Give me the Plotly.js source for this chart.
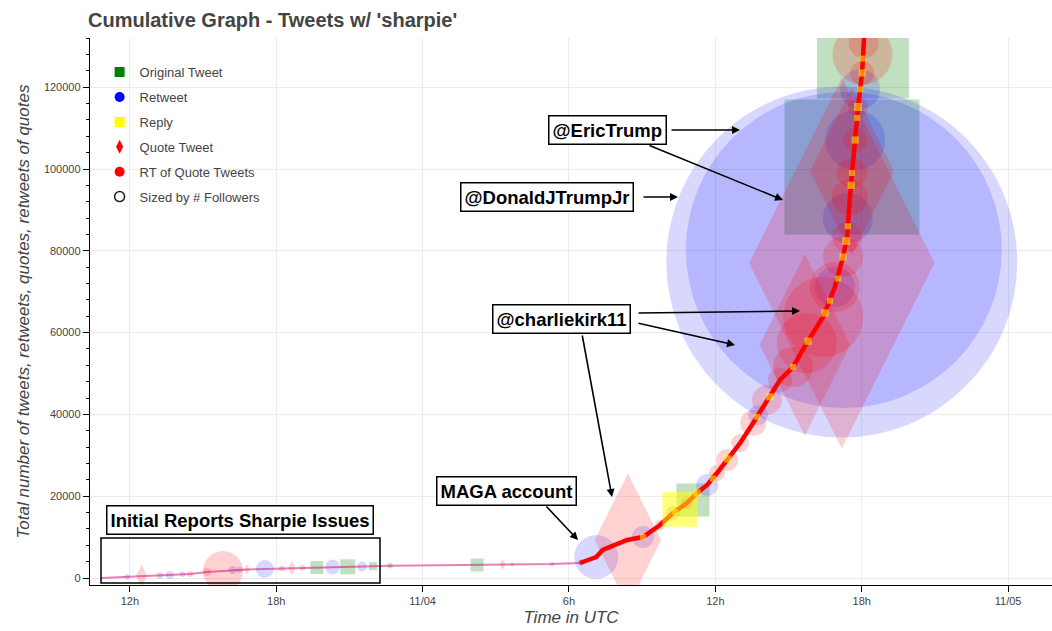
<!DOCTYPE html>
<html><head><meta charset="utf-8">
<script src="https://cdn.plot.ly/plotly-3.0.1.min.js"></script>
<style>html,body{margin:0;padding:0;background:#fff}#chart{width:1052px;height:631px}</style>
</head><body><div id="chart"></div>
<script>
// ---------- DATA ----------
const curveTime = ['2020-11-03 10:50','2020-11-03 11:53','2020-11-03 12:29','2020-11-03 13:14','2020-11-03 13:38','2020-11-03 14:28','2020-11-03 15:10','2020-11-03 15:49','2020-11-03 16:13','2020-11-03 16:48','2020-11-03 17:32','2020-11-03 18:14','2020-11-03 18:38','2020-11-03 19:40','2020-11-03 20:19','2020-11-03 20:56','2020-11-03 21:31','2020-11-03 21:58','2020-11-03 22:40','2020-11-03 23:50','2020-11-04 02:14','2020-11-04 03:17','2020-11-04 05:18','2020-11-04 06:27','2020-11-04 07:07','2020-11-04 07:23','2020-11-04 08:23','2020-11-04 09:02','2020-11-04 09:44','2020-11-04 10:16','2020-11-04 10:50','2020-11-04 11:15','2020-11-04 11:40','2020-11-04 12:04','2020-11-04 12:29','2020-11-04 13:01','2020-11-04 13:33','2020-11-04 14:07','2020-11-04 14:39','2020-11-04 15:11','2020-11-04 15:45','2020-11-04 16:25','2020-11-04 16:54','2020-11-04 17:14','2020-11-04 17:24','2020-11-04 17:31','2020-11-04 17:36','2020-11-04 17:44','2020-11-04 17:51','2020-11-04 18:01','2020-11-04 18:05','2020-11-04 18:08'];
const curveCount = [0,245,490,620,740,980,1470,1700,1960,2100,2200,2330,2445,2560,2690,2750,2800,2900,3000,3080,3180,3300,3420,3670,5130,6850,9290,10020,12960,15890,18340,20780,22740,25670,28850,33000,37900,43520,48410,51590,57460,63820,71150,78480,83370,93150,99020,107090,115160,123470,130800,136000];

const origTime = ['2020-11-03 19:40','2020-11-03 20:56','2020-11-03 21:58','2020-11-03 22:40','2020-11-04 02:14','2020-11-04 11:05','2020-11-04 17:36','2020-11-04 18:03'];
const origCount = [2560,2750,2900,3000,3180,19070,100500,128500];
const origFollowers = [8000,10700,3000,1200,8000,51800,866800,402600];

const rtTime = ['2020-11-03 11:53','2020-11-03 13:14','2020-11-03 13:38','2020-11-03 14:10','2020-11-03 16:13','2020-11-03 16:30','2020-11-03 17:32','2020-11-03 20:19','2020-11-03 21:31','2020-11-04 05:18','2020-11-04 06:30','2020-11-04 07:07','2020-11-04 09:02','2020-11-04 11:40','2020-11-04 13:45','2020-11-04 16:54','2020-11-04 17:11','2020-11-04 17:16','2020-11-04 17:26','2020-11-04 17:44','2020-11-04 17:56'];
const rtCount = [245,620,740,900,1960,2030,2200,2690,2800,3420,3800,5130,10020,22740,39800,71150,77260,80200,88000,107090,119500];
const rtFollowers = [1500,2000,3000,1500,3500,2000,15400,10700,4756,1200,2000,92080,23020,23020,19025,76100,5859000,4749000,118900,171200,76100];

const replyTime = ['2020-11-04 10:33','2020-11-04 09:02','2020-11-04 10:21','2020-11-04 11:15','2020-11-04 11:54','2020-11-04 12:31','2020-11-04 13:43','2020-11-04 14:14','2020-11-04 15:11','2020-11-04 15:48','2020-11-04 16:30','2020-11-04 16:42','2020-11-04 17:02','2020-11-04 17:14','2020-11-04 17:22','2020-11-04 17:26','2020-11-04 17:34','2020-11-04 17:36','2020-11-04 17:44','2020-11-04 17:49','2020-11-04 17:51','2020-11-04 17:56','2020-11-04 18:01','2020-11-04 18:03'];
const replyCount = [16800,10020,16200,20780,24300,29100,39400,44300,51590,57900,64800,67800,73200,78480,82400,86000,96000,99020,107090,112500,115160,119500,123470,127000];
const replyFollowers = [58260,1712,1712,2500,1712,2500,1712,2500,1712,2500,2500,1712,1712,2500,3044,1712,2500,1712,2500,1712,3044,1712,2500,1712];

const quoteTime = ['2020-11-03 12:29','2020-11-03 16:48','2020-11-03 18:38','2020-11-04 03:17','2020-11-04 08:25','2020-11-04 15:40','2020-11-04 17:11','2020-11-04 17:36'];
const quoteCount = [490,2100,2445,3300,9290,57000,77000,99500];
const quoteFollowers = [12176,3044,4756,3044,429200,800000,3340000,684900];

const rtqTime = ['2020-11-03 14:28','2020-11-03 15:10','2020-11-03 15:49','2020-11-03 18:14','2020-11-03 19:05','2020-11-04 03:40','2020-11-04 07:40','2020-11-04 09:44','2020-11-04 10:16','2020-11-04 10:50','2020-11-04 12:04','2020-11-04 12:29','2020-11-04 13:01','2020-11-04 13:33','2020-11-04 14:07','2020-11-04 14:39','2020-11-04 15:11','2020-11-04 15:45','2020-11-04 16:25','2020-11-04 16:54','2020-11-04 17:14','2020-11-04 17:24','2020-11-04 17:31','2020-11-04 17:36','2020-11-04 17:44','2020-11-04 17:51','2020-11-04 18:01','2020-11-04 18:02','2020-11-04 18:05'];
const rtqCount = [980,1470,1700,2330,2500,3320,7400,12960,15890,18340,25670,28850,33000,37900,43520,48410,51590,57460,63820,71150,78480,83370,93150,99020,107090,115160,123470,128000,130800];
const rtqFollowers = [1712,3044,76100,1712,1712,761,1712,4756,9322,6849,12176,23020,15410,32150,42800,27400,76100,171200,304400,118900,76100,42800,61640,42800,27400,19025,27400,171200,42800];

const xTickVals = ['2020-11-03 12:00','2020-11-03 18:00','2020-11-04 00:00','2020-11-04 06:00','2020-11-04 12:00','2020-11-04 18:00','2020-11-05 00:00'];
const xTickText = ['12h','18h','11/04','6h','12h','18h','11/05'];
const yTickVals = [0,20000,40000,60000,80000,100000,120000];
const legendNames = ['Original Tweet','Retweet','Reply','Quote Tweet','RT of Quote Tweets','Sized by # Followers'];

// ---------- BUILD ----------
const sz = f => f.map(v => 0.145 * Math.sqrt(v));
const split = curveTime.indexOf('2020-11-04 06:27');
const FONT = 'Liberation Sans, Arial, Helvetica, sans-serif';

const traces = [
  {type:'scatter', mode:'markers', x: origTime, y: origCount, showlegend:false, hoverinfo:'skip',
   marker:{symbol:'square', size: sz(origFollowers), color:'rgba(0,128,0,0.35)', line:{width:0}}},
  {type:'scatter', mode:'markers', x: rtTime, y: rtCount, showlegend:false, hoverinfo:'skip',
   marker:{symbol:'circle', size: sz(rtFollowers), color:'rgba(0,0,255,0.22)', line:{width:0}}},
  {type:'scatter', mode:'markers', x: quoteTime, y: quoteCount, showlegend:false, hoverinfo:'skip',
   marker:{symbol:'diamond-tall', size: sz(quoteFollowers), color:'rgba(255,0,0,0.25)', line:{width:0}}},
  {type:'scatter', mode:'markers', x: rtqTime, y: rtqCount, showlegend:false, hoverinfo:'skip',
   marker:{symbol:'circle', size: sz(rtqFollowers), color:'rgba(255,0,0,0.26)', line:{width:0}}},
  {type:'scatter', mode:'lines', x: curveTime.slice(0, split+1), y: curveCount.slice(0, split+1), showlegend:false, hoverinfo:'skip',
   line:{color:'rgba(210,0,110,0.5)', width:2}},
  {type:'scatter', mode:'lines', x: curveTime.slice(split), y: curveCount.slice(split), showlegend:false, hoverinfo:'skip',
   line:{color:'#ff0000', width:4.5}},
  {type:'scatter', mode:'markers', x: replyTime, y: replyCount, showlegend:false, hoverinfo:'skip',
   marker:{symbol:'square', size: sz(replyFollowers), color:'rgba(255,255,0,0.75)', line:{width:0}}}
];
const legendStyles = [
  {symbol:'square', color:'#008000'},
  {symbol:'circle', color:'#0000ff'},
  {symbol:'square', color:'#ffff00'},
  {symbol:'diamond-tall', color:'#ff0000'},
  {symbol:'circle', color:'#ff0000'},
  {symbol:'circle-open', color:'#222', line:{width:1.5, color:'#222'}}
];
legendNames.forEach((n, i) => {
  traces.push({type:'scatter', mode:'markers', x:[null], y:[null], name:n, legendgroup:'g'+i,
    marker: Object.assign({size:10}, legendStyles[i])});
});

const W = 1052, H = 631, L = 90, R = 0, T = 38, B = 46;
const pw = W - L - R, ph = H - T - B;
const px = x => (x - L) / pw, py = y => (H - B - y) / ph;

const boxFont = {family: FONT, size: 18.5, color: '#000', weight: 'bold'};
function box(text, cx, cy) {
  return {xref:'paper', yref:'paper', x: px(cx), y: py(cy), xanchor:'center', yanchor:'middle',
    text: '<b>' + text + '</b>', showarrow:false, font: boxFont, bgcolor:'#fff',
    bordercolor:'#000', borderwidth:1.5, borderpad:3};
}
function arrow(hx, hy, tx, ty) {
  return {xref:'paper', yref:'paper', x: px(hx), y: py(hy), ax: tx - hx, ay: ty - hy,
    text:'', showarrow:true, arrowhead:2, arrowsize:1, arrowwidth:1.6, arrowcolor:'#000', standoff:0, startstandoff:0};
}
const annotations = [
  arrow(740,130,670,130), arrow(783,200,648,145),
  arrow(678,197,642,197),
  arrow(800,311,637,313), arrow(735,345,637,323), arrow(612,497,582,334),
  arrow(578,540,545,505),
  box('@EricTrump', 607, 130),
  box('@DonaldJTrumpJr', 547, 197),
  box('@charliekirk11', 561, 319),
  box('MAGA account', 506, 491),
  box('Initial Reports Sharpie Issues', 240, 520)
];
const shapes = [
  {type:'rect', xref:'paper', yref:'paper', x0: px(101), x1: px(380), y0: py(583), y1: py(538),
   line:{color:'#000', width:1.5}, fillcolor:'rgba(0,0,0,0)'}
];

const layout = {
  width: W, height: H, margin:{l:L, r:R, t:T, b:B},
  paper_bgcolor:'#fff', plot_bgcolor:'#fff',
  font:{family: FONT, color:'#444', size:11},
  title:{text:'<b>Cumulative Graph - Tweets w/ \'sharpie\'</b>', font:{family:FONT, size:20, color:'#444'},
    x: 88/W, xanchor:'left', xref:'container', y: 1 - 20/H, yanchor:'middle', yref:'container'},
  xaxis:{type:'date', range:['2020-11-03 10:22','2020-11-05 01:48'], tickvals: xTickVals, ticktext: xTickText,
    showline:true, linecolor:'#000', linewidth:1.2, ticks:'outside', ticklen:6, tickcolor:'#000',
    showgrid:true, gridcolor:'#ececec', zeroline:false, tickfont:{size:11, color:'#444'},
    title:{text:'<i>Time in UTC</i>', font:{size:17, color:'#444', family:FONT}, standoff:4}},
  yaxis:{range:[-1710, 132030], tickvals: yTickVals, ticktext: yTickVals.map(String),
    showline:true, linecolor:'#000', linewidth:1.2, ticks:'outside', ticklen:6, tickcolor:'#000',
    minor:{dtick:4000, ticklen:3, tickcolor:'#000', showgrid:false, ticks:'outside'},
    showgrid:true, gridcolor:'#ececec', zeroline:false, tickfont:{size:11, color:'#444'},
    title:{text:'<i>Total number of tweets, retweets, quotes, retweets of quotes</i>', font:{size:17, color:'#444', family:FONT}, standoff:10}},
  showlegend:true,
  legend:{x: 0.01, y: 0.965, xanchor:'left', yanchor:'top', bgcolor:'rgba(0,0,0,0)', borderwidth:0,
    font:{size:13, color:'#444', family:FONT}, traceorder:'grouped', tracegroupgap:5},
  annotations, shapes
};
Plotly.newPlot('chart', traces, layout, {displayModeBar:false, staticPlot:true});
</script></body></html>
